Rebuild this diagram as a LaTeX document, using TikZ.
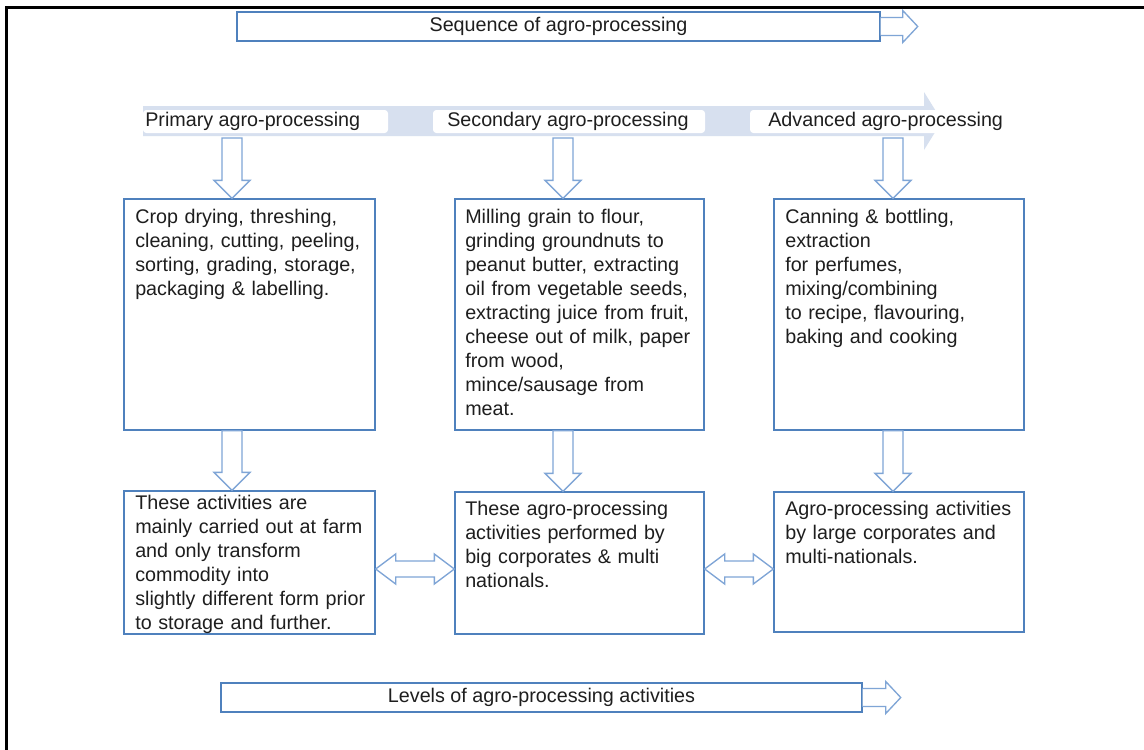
\documentclass[tikz,border=0pt]{standalone}
\usepackage{fontspec}
\setmainfont{Liberation Sans}
\usetikzlibrary{calc,fit}
\definecolor{boxblue}{HTML}{4F81BD}
\definecolor{arrowblue}{HTML}{7FA5D6}
\definecolor{bandblue}{HTML}{D7E0EF}
\definecolor{ink}{HTML}{1E1E1E}

% hollow block arrow pointing down: #1 top centre, #2 tip
\newcommand\blockdown[2]{%
  \draw[hollow] let \p1=(#1), \p2=(#2) in
    (\x1-7.5pt,\y1) -- (\x1-7.5pt,\y2+13.5pt) -- (\x1-13.5pt,\y2+13.5pt)
    -- (\x2,\y2) -- (\x1+13.5pt,\y2+13.5pt) -- (\x1+7.5pt,\y2+13.5pt)
    -- (\x1+7.5pt,\y1) -- cycle;}
% hollow block arrow with heads at both ends: #1 left tip, #2 right tip
\newcommand\blockboth[2]{%
  \draw[hollow] let \p1=(#1), \p2=(#2) in
    (\x1,\y1) -- (\x1+15pt,\y1+11.25pt) -- (\x1+15pt,\y1+6pt)
    -- (\x2-15pt,\y1+6pt) -- (\x2-15pt,\y1+11.25pt) -- (\x2,\y1)
    -- (\x2-15pt,\y1-11.25pt) -- (\x2-15pt,\y1-6pt) -- (\x1+15pt,\y1-6pt)
    -- (\x1+15pt,\y1-11.25pt) -- cycle;}
% hollow block arrow leaving a banner to the right: #1 base, #2 tip
\newcommand\blockright[2]{%
  \draw[hollow] let \p1=(#1), \p2=(#2) in
    (\x1,\y1+6.75pt) -- (\x2-11.25pt,\y1+6.75pt) -- (\x2-11.25pt,\y1+12pt)
    -- (\x2,\y1) -- (\x2-11.25pt,\y1-12pt) -- (\x2-11.25pt,\y1-6.75pt)
    -- (\x1,\y1-6.75pt);}

\begin{document}
\begin{tikzpicture}[x=0.75pt,y=-0.75pt,
  every node/.style={font=\fontsize{14.8}{18}\selectfont, text=ink},
  box/.style={draw=boxblue, line width=1pt, inner sep=0pt},
  banner/.style={draw=boxblue, line width=1.1pt, inner sep=0pt, fill=white},
  tag/.style={fill=white, rounded corners=2.5pt, inner sep=0pt},
  tagtext/.style={anchor=west, inner sep=0pt},
  body/.style={anchor=north west, inner sep=0pt, align=left, text width=180pt},
  hollow/.style={draw=arrowblue, line width=1pt, fill=white, line join=miter}]
\useasboundingbox (0,0) rectangle (1144,749);
\fill[white] (0,0) rectangle (1144,749);
\draw[black, line width=2.25pt] (6,752) -- (6,8) -- (1150,8);

% banners
\node[banner, fit={(237,12) (880,41)}] (seq) {};
\node[inner sep=0pt] (seqt) at (seq.center) {Sequence of agro-processing};
\path (seq.east) ++(37,0) coordinate (seqtip);
\blockright{seq.east}{seqtip}

\node[banner, fit={(221,683) (862,712)}] (lev) {};
\node[inner sep=0pt] (levt) at (lev.center) {Levels of agro-processing activities};
\path (lev.east) ++(38,0) coordinate (levtip);
\blockright{lev.east}{levtip}

% stage band
\fill[bandblue] (143,106) -- (924,106) -- (924,92) -- (942,121) -- (924,150)
  -- (924,136) -- (143,136) -- cycle;
\node[tag, fit={(143,110) (388,133)}] (pri) {};
\node[tag, fit={(433,110) (705,133)}] (sec) {};
\node[tag, fit={(750,110) (1010,133)}] (adv) {};
\node[tagtext] (prit) at (145,121.5) {Primary agro-processing};
\node[tagtext] (sect) at (447,121.5) {Secondary agro-processing};
\node[tagtext] (advt) at (768,121.5) {Advanced agro-processing};

% activity boxes
\node[box, fit={(124,199) (375,430)}] (A) {};
\node[box, fit={(455,199) (704,430)}] (B) {};
\node[box, fit={(774,199) (1024,430)}] (C) {};
\node[box, fit={(124,491) (375,634)}] (D) {};
\node[box, fit={(455,492) (704,634)}] (E) {};
\node[box, fit={(774,492) (1024,632)}] (F) {};

\node[body] (At) at (135,206) {\strut Crop drying, threshing,\\ cleaning, cutting, peeling,\\ sorting, grading, storage,\\ packaging \& labelling.};
\node[body] (Bt) at (465,206) {\strut Milling grain to flour,\\ grinding groundnuts to\\ peanut butter, extracting\\ oil from vegetable seeds,\\ extracting juice from fruit,\\ cheese out of milk, paper\\ from wood,\\ mince/sausage from\\ meat.};
\node[body] (Ct) at (785,206) {\strut Canning \& bottling,\\ extraction\\ for perfumes,\\ mixing/combining\\ to recipe, flavouring,\\ baking and cooking};
\node[body] (Dt) at (135,492) {\strut These activities are\\ mainly carried out at farm\\ and only transform\\ commodity into\\ slightly different form prior\\ to storage and further.};
\node[body] (Et) at (465,498) {\strut These agro-processing\\ activities performed by\\ big corporates \& multi\\ nationals.};
\node[body] (Ft) at (785,498) {\strut Agro-processing activities\\ by large corporates and\\ multi-nationals.};

% arrows from the stages down to the activities
\coordinate (c1) at (232,138);
\coordinate (c2) at (563,138);
\coordinate (c3) at (893,138);
\blockdown{c1}{c1 |- A.north}
\blockdown{c2}{c2 |- B.north}
\blockdown{c3}{c3 |- C.north}
\blockdown{c1 |- A.south}{c1 |- D.north}
\blockdown{c2 |- B.south}{c2 |- E.north}
\blockdown{c3 |- C.south}{c3 |- F.north}

% links between the levels
\coordinate (mid) at (0,569);
\blockboth{D.east |- mid}{E.west |- mid}
\blockboth{E.east |- mid}{F.west |- mid}
\end{tikzpicture}
\end{document}
